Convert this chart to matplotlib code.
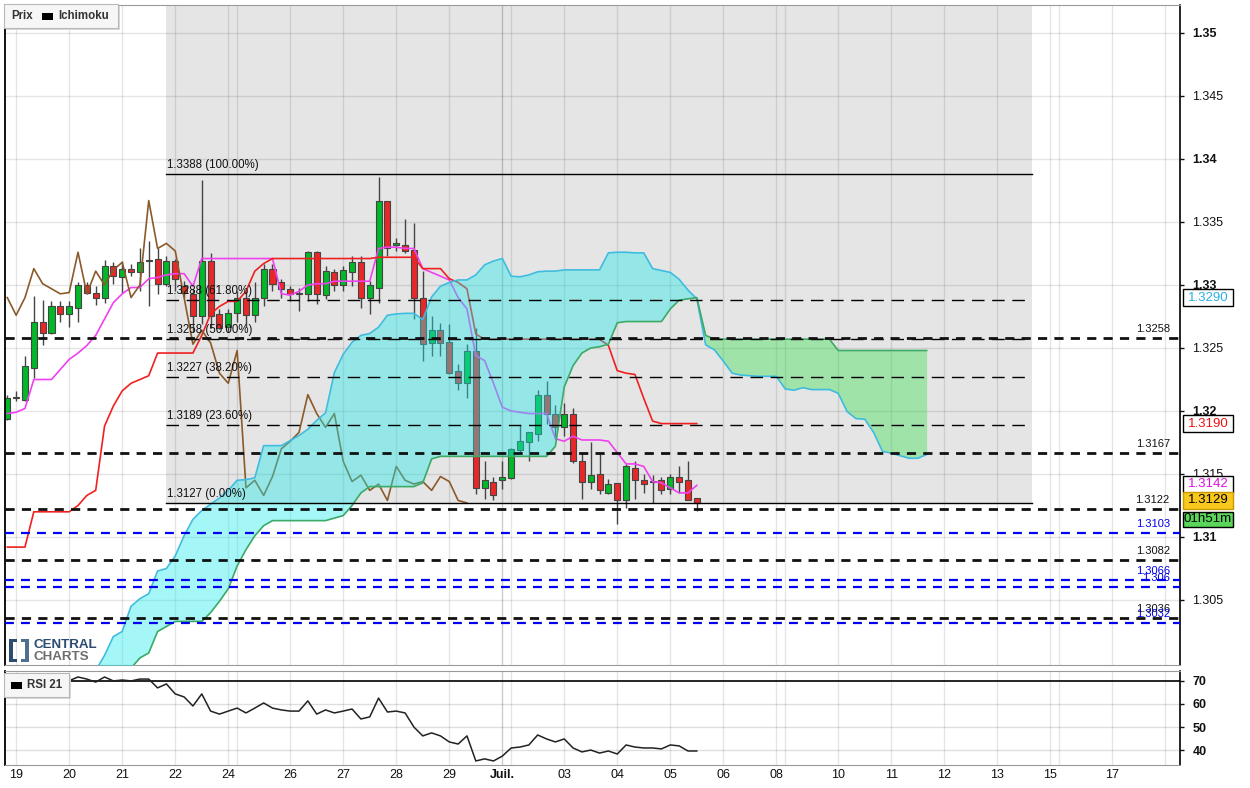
import numpy as np
import matplotlib
matplotlib.use("Agg")
import matplotlib.pyplot as plt
from matplotlib.patches import Rectangle
from matplotlib.transforms import blended_transform_factory

plt.rcParams['font.family'] = ['Liberation Sans', 'DejaVu Sans']

W, H = 1250, 788

# ---------------- data (4h candles) ----------------
opens = [1.3194, 1.3211, 1.3209, 1.3234, 1.3271, 1.3262, 1.3283, 1.3277, 1.3282, 1.3300,
         1.3294, 1.3290, 1.3315, 1.3306, 1.3313, 1.3310, 1.3319, 1.3321, 1.3301, 1.3319,
         1.3299, 1.3293, 1.3275, 1.3319, 1.3277, 1.3267, 1.3278, 1.3290, 1.3276, 1.3290,
         1.3313, 1.3302, 1.3297, 1.3293, 1.3293, 1.3326, 1.3292, 1.3310, 1.3300, 1.3310,
         1.3318, 1.3290, 1.3298, 1.3367, 1.3332, 1.3332, 1.3328, 1.3290, 1.3254, 1.3264,
         1.3255, 1.3232, 1.3222, 1.3248, 1.3139, 1.3144, 1.3145, 1.3147, 1.3169, 1.3175,
         1.3182, 1.3213, 1.3198, 1.3187, 1.3198, 1.3160, 1.3144, 1.3150, 1.3135, 1.3143,
         1.3129, 1.3155, 1.3145, 1.3144, 1.3145, 1.3138, 1.3148, 1.3145, 1.3131]
highs = [1.3213, 1.3216, 1.3244, 1.3291, 1.3288, 1.3287, 1.3287, 1.3287, 1.3302, 1.3302,
         1.3299, 1.3320, 1.3318, 1.3319, 1.3317, 1.3329, 1.3335, 1.3329, 1.3323, 1.3321,
         1.3303, 1.3297, 1.3383, 1.3325, 1.3281, 1.3281, 1.3295, 1.3295, 1.3302, 1.3317,
         1.3317, 1.3305, 1.3299, 1.3298, 1.3327, 1.3327, 1.3315, 1.3313, 1.3315, 1.3323,
         1.3323, 1.3303, 1.3386, 1.3367, 1.3337, 1.3352, 1.3349, 1.3311, 1.3275, 1.3270,
         1.3269, 1.3237, 1.3253, 1.3266, 1.3160, 1.3148, 1.3160, 1.3171, 1.3189, 1.3183,
         1.3217, 1.3224, 1.3205, 1.3206, 1.3202, 1.3167, 1.3175, 1.3166, 1.3146, 1.3143,
         1.3158, 1.3160, 1.3150, 1.3149, 1.3148, 1.3150, 1.3156, 1.3160, 1.3131]
lows = [1.3193, 1.3208, 1.3208, 1.3226, 1.3252, 1.3261, 1.3271, 1.3267, 1.3271, 1.3293,
        1.3284, 1.3286, 1.3301, 1.3294, 1.3307, 1.3295, 1.3283, 1.3293, 1.3299, 1.3295,
        1.3290, 1.3263, 1.3269, 1.3266, 1.3265, 1.3263, 1.3271, 1.3267, 1.3271, 1.3283,
        1.3295, 1.3290, 1.3287, 1.3279, 1.3287, 1.3285, 1.3289, 1.3295, 1.3295, 1.3299,
        1.3282, 1.3277, 1.3286, 1.3323, 1.3327, 1.3325, 1.3273, 1.3240, 1.3244, 1.3244,
        1.3229, 1.3217, 1.3210, 1.3134, 1.3130, 1.3129, 1.3138, 1.3146, 1.3167, 1.3160,
        1.3176, 1.3190, 1.3178, 1.3180, 1.3159, 1.3130, 1.3138, 1.3134, 1.3134, 1.3110,
        1.3123, 1.3130, 1.3135, 1.3127, 1.3134, 1.3134, 1.3135, 1.3129, 1.3121]
closes = [1.3210, 1.3210, 1.3236, 1.3271, 1.3262, 1.3283, 1.3277, 1.3283, 1.3300, 1.3294,
          1.3290, 1.3315, 1.3307, 1.3313, 1.3310, 1.3318, 1.3320, 1.3301, 1.3319, 1.3305,
          1.3294, 1.3275, 1.3319, 1.3275, 1.3266, 1.3278, 1.3290, 1.3276, 1.3290, 1.3313,
          1.3301, 1.3297, 1.3293, 1.3294, 1.3326, 1.3293, 1.3311, 1.3300, 1.3312, 1.3318,
          1.3290, 1.3300, 1.3367, 1.3329, 1.3333, 1.3327, 1.3290, 1.3253, 1.3264, 1.3254,
          1.3230, 1.3222, 1.3248, 1.3139, 1.3145, 1.3133, 1.3148, 1.3170, 1.3176, 1.3183,
          1.3213, 1.3198, 1.3187, 1.3198, 1.3160, 1.3144, 1.3149, 1.3137, 1.3142, 1.3129,
          1.3156, 1.3145, 1.3142, 1.3144, 1.3137, 1.3148, 1.3144, 1.3129, 1.3127]

tenkan = [1.3198, 1.3199, 1.3202, 1.3225, 1.3225, 1.3225, 1.3233, 1.3241, 1.3246, 1.3252,
          1.3260, 1.3273, 1.3286, 1.3293, 1.3298, 1.3298, 1.3305, 1.3306, 1.3308, 1.3309,
          1.3309, 1.3299, 1.3321, 1.3321, 1.3321, 1.3321, 1.3321, 1.3321, 1.3321, 1.3321,
          1.3321, 1.3293, 1.3292, 1.3295, 1.3300, 1.3301, 1.3301, 1.3303, 1.3303, 1.3303,
          1.3303, 1.3303, 1.3329, 1.3330, 1.3330, 1.3329, 1.3329, 1.3313, 1.3310, 1.3307,
          1.3304, 1.3290, 1.3281, 1.3244, 1.3240, 1.3222, 1.3203, 1.3200, 1.3199, 1.3198,
          1.3198, 1.3198, 1.3178, 1.3176, 1.3180, 1.3177, 1.3177, 1.3177, 1.3176, 1.3167,
          1.3158, 1.3158, 1.3156, 1.3144, 1.3143, 1.3139, 1.3135, 1.3135, 1.3141]
kijun = [1.3092, 1.3092, 1.3092, 1.3120, 1.3120, 1.3120, 1.3120, 1.3120, 1.3125, 1.3133,
         1.3137, 1.3188, 1.3204, 1.3216, 1.3222, 1.3225, 1.3228, 1.3246, 1.3246, 1.3246,
         1.3246, 1.3246, 1.3260, 1.3277, 1.3283, 1.3287, 1.3287, 1.3295, 1.3311, 1.3317,
         1.3321, 1.3321, 1.3321, 1.3321, 1.3321, 1.3321, 1.3321, 1.3321, 1.3321, 1.3321,
         1.3321, 1.3321, 1.3322, 1.3322, 1.3322, 1.3322, 1.3322, 1.3313, 1.3313, 1.3313,
         1.3305, 1.3302, 1.3297, 1.3261, 1.3257, 1.3257, 1.3257, 1.3257, 1.3257, 1.3257,
         1.3257, 1.3257, 1.3257, 1.3257, 1.3257, 1.3257, 1.3257, 1.3257, 1.3252, 1.3232,
         1.3230, 1.3229, 1.3210, 1.3192, 1.3190, 1.3190, 1.3190, 1.3190, 1.3190]
ichimoku_shift = 26
cloud_first_bar = 9
# Senkou span A before it can be built from the visible tenkan/kijun (bars 9..25)
senkou_a_early = [1.2985, 1.2994, 1.3006, 1.3021, 1.3025, 1.3045, 1.3051, 1.3055, 1.3073,
                  1.3075, 1.3085, 1.3101, 1.3114, 1.3121, 1.3126, 1.3131, 1.3137]
# Senkou span B, bars 9..104
senkou_b = [1.2960, 1.2965, 1.2970, 1.2978, 1.2988, 1.2996, 1.3004, 1.3008, 1.3025, 1.3029,
            1.3033, 1.3033, 1.3033, 1.3033, 1.3040, 1.3049, 1.3059, 1.3077, 1.3090, 1.3101,
            1.3109, 1.3113, 1.3113, 1.3113, 1.3113, 1.3113, 1.3113, 1.3113, 1.3115, 1.3117,
            1.3125, 1.3135, 1.3140, 1.3140, 1.3140, 1.3140, 1.3140, 1.3140, 1.3143, 1.3162,
            1.3164, 1.3164, 1.3164, 1.3164, 1.3164, 1.3164, 1.3164, 1.3164, 1.3164, 1.3164,
            1.3164, 1.3164, 1.3164, 1.3172, 1.3219, 1.3236, 1.3246, 1.3250, 1.3251, 1.3253,
            1.3270, 1.3271, 1.3271, 1.3271, 1.3271, 1.3271, 1.3281, 1.3288, 1.3289, 1.3290,
            1.3260, 1.3257, 1.3257, 1.3257, 1.3257, 1.3257, 1.3257, 1.3257, 1.3257, 1.3257,
            1.3257, 1.3257, 1.3257, 1.3257, 1.3257, 1.3248, 1.3248, 1.3248, 1.3248, 1.3248,
            1.3248, 1.3248, 1.3248, 1.3248, 1.3248, 1.3248]

rsi_first_bar = 7
rsi = [70.0, 71.6, 70.7, 69.4, 71.6, 69.9, 70.3, 69.9, 70.7, 70.7,
       66.9, 68.6, 64.3, 63.0, 59.1, 64.3, 56.9, 55.6, 56.9, 58.2,
       56.1, 58.2, 60.4, 58.2, 57.4, 56.9, 56.9, 61.3, 55.6, 57.4,
       56.1, 56.9, 57.8, 53.5, 54.4, 62.5, 56.5, 56.9, 56.1, 50.0,
       46.2, 47.5, 46.2, 43.6, 42.7, 46.2, 35.4, 36.3, 35.4, 37.5,
       41.0, 41.4, 42.3, 46.6, 44.9, 43.6, 44.9, 41.0, 39.3, 40.1,
       38.8, 39.7, 38.4, 42.3, 41.4, 41.0, 41.0, 40.6, 42.3, 41.9,
       39.7, 39.7]

fib_high, fib_low = 1.3388, 1.3127
fib_levels = [1.0, 0.618, 0.5, 0.382, 0.236, 0.0]
fib_start_bar, fib_end_bar = 17.95, 115.9

support_black = [1.3258, 1.3167, 1.3122, 1.3082, 1.3036]
support_black_txt = ['1.3258', '1.3167', '1.3122', '1.3082', '1.3036']
support_blue = [1.3103, 1.3066, 1.3060, 1.3032]
support_blue_txt = ['1.3103', '1.3066', '1.306', '1.3032']

day_labels = ['19', '20', '21', '22', '24', '26', '27', '28', '29', 'Juil.', '03', '04',
              '05', '06', '08', '10', '11', '12', '13', '15', '17']
day_ticks = [1, 7, 13, 19, 25, 32, 38, 44, 50, 56, 63, 69, 75, 81, 87, 94, 100, 106, 112,
             118, 125]
week_lines = [26, 57, 88, 119, 131]

price_ticks = [1.305, 1.31, 1.315, 1.32, 1.325, 1.33, 1.335, 1.34, 1.345, 1.35]
price_tick_txt = ['1.305', '1.31', '1.315', '1.32', '1.325', '1.33', '1.335', '1.34', '1.345', '1.35']
rsi_ticks = [40, 50, 60, 70]

box_values = [('1.3290', 1.3290, '#2AAEE6', 'white', 'black'),
              ('1.3190', 1.3190, '#EE1111', 'white', 'black'),
              ('1.3142', 1.3142, '#E010E0', 'white', 'black'),
              ('1.3129', 1.3129, 'black', '#F8C81C', '#C89A00')]
countdown_txt = '01h51m'

# ---------------- figure ----------------
fig = plt.figure(figsize=(W / 100, H / 100), dpi=100)
fig.patch.set_facecolor('white')


def fx(px):
    return px / W


def fy(py):
    return 1 - py / H


ax = fig.add_axes([fx(5), fy(665), fx(1180) - fx(5), fy(5) - fy(665)])
axr = fig.add_axes([fx(5), fy(765), fx(1180) - fx(5), fy(671) - fy(765)])

xmin, xmax = -0.26, 132.66
ymin, ymax = 1.299841, 1.352222
ax.set_xlim(xmin, xmax)
ax.set_ylim(ymin, ymax)
axr.set_xlim(xmin, xmax)
axr.set_ylim(33.66, 74.18)

o = np.array(opens)
h = np.array(highs)
l = np.array(lows)
c = np.array(closes)
n = len(c)
x = np.arange(n)

# fibonacci grey zone
ax.add_patch(Rectangle((fib_start_bar, fib_low), fib_end_bar - fib_start_bar, ymax - fib_low,
                       facecolor='#E5E5E5', edgecolor='none', zorder=0.2))

# grid
for a in (ax, axr):
    for t in day_ticks + week_lines:
        a.axvline(t, color='black', alpha=0.2 if t == 56 else 0.1, lw=1, zorder=0.5)
for t in price_ticks:
    ax.axhline(t, color='black', alpha=0.1, lw=1, zorder=0.5)
for t in rsi_ticks[:-1]:
    axr.axhline(t, color='black', alpha=0.13, lw=1, zorder=0.5)
axr.axhline(70, color='black', lw=1.2, zorder=2)

# candles
up = c >= o
cols = np.where(up, '#00B828', '#E82828')
ax.vlines(x, l, h, color='#444444', lw=1, zorder=2)
ax.bar(x, np.maximum(np.abs(c - o), 0.00003), bottom=np.minimum(o, c), width=0.68,
       color=cols, edgecolor='#444444', linewidth=0.8, zorder=2.1)

# ichimoku
ax.plot(x, tenkan, color='#F040F0', lw=1.2, zorder=2.5)
ax.plot(x, kijun, color='#F02020', lw=1.2, zorder=2.5)
ax.plot(x[:n - ichimoku_shift], c[ichimoku_shift:], color='#8B5A2B', lw=1.2, zorder=2.5)

span_a = np.array(senkou_a_early + [(t + k) / 2 for t, k in zip(tenkan, kijun)])
span_b = np.array(senkou_b)
xa = np.arange(cloud_first_bar, cloud_first_bar + len(span_a))
ax.fill_between(xa, span_a, span_b, where=span_a >= span_b, interpolate=True,
                color='#1EEBEB', alpha=0.4, lw=0, zorder=3)
ax.fill_between(xa, span_a, span_b, where=span_b > span_a, interpolate=True,
                color='#37E150', alpha=0.4, lw=0, zorder=3)
ax.plot(xa, span_a, color='#3EBCE0', lw=1.2, zorder=3.5)
ax.plot(xa, span_b, color='#3DAA66', lw=1.2, zorder=3.5)

# fibonacci lines
rng = fib_high - fib_low
for lev in fib_levels:
    val = fib_low + lev * rng
    if lev in (0.0, 1.0):
        ax.plot([fib_start_bar, fib_end_bar], [val, val], color='black', lw=1, zorder=4)
    else:
        ax.plot([fib_start_bar, fib_end_bar], [val, val], color='black', lw=1,
                linestyle=(0, (9, 5.5)), zorder=4)
    ax.annotate('%.4f (%.2f%%)' % (val + 1e-7, lev * 100), xy=(fib_start_bar, val),
                xytext=(1, 6.5), textcoords='offset points', ha='left', va='center',
                fontsize=8.3, color='#111111', zorder=6)

# support / resistance lines
lab_x = 131.5
for v, t in zip(support_black, support_black_txt):
    ax.axhline(v, color='#111111', lw=2, linestyle=(0, (3.3, 2.6)), zorder=4.5)
    ax.annotate(t, xy=(lab_x, v), xytext=(0, 6.5), textcoords='offset points',
                ha='right', va='center', fontsize=8, color='#111111', zorder=6)
for v, t in zip(support_blue, support_blue_txt):
    ax.axhline(v, color='#0000EE', lw=1.6, linestyle=(0, (4, 3.2)), zorder=4.5)
    ax.annotate(t, xy=(lab_x, v), xytext=(0, 6.5), textcoords='offset points',
                ha='right', va='center', fontsize=8, color='#0000EE', zorder=6)

# RSI
xr = np.arange(rsi_first_bar, rsi_first_bar + len(rsi))
axr.plot(xr, rsi, color='#222222', lw=1.1, zorder=3)

# axes styling
for a in (ax, axr):
    a.yaxis.tick_right()
    a.spines['left'].set_color('black')
    a.spines['left'].set_linewidth(1.3)
    a.spines['right'].set_color('black')
    a.spines['right'].set_linewidth(1.2)
    a.spines['top'].set_color('#9A9A9A')
    a.spines['bottom'].set_color('#9A9A9A')
    a.tick_params(axis='y', length=3, width=1, pad=6, labelsize=9, colors='#111111')
ax.set_xticks([])
ax.set_yticks(price_ticks)
ax.set_yticklabels(price_tick_txt)
for i, tl in enumerate(ax.get_yticklabels()):
    tl.set_fontweight('bold' if i % 2 == 1 else 'normal')
axr.set_yticks(rsi_ticks)
axr.set_yticklabels([str(t) for t in rsi_ticks], fontweight='bold')
axr.set_xticks(day_ticks)
axr.set_xticklabels(day_labels)
axr.tick_params(axis='x', length=0, pad=3, labelsize=9, colors='#111111')
for tl in axr.get_xticklabels():
    if tl.get_text() == 'Juil.':
        tl.set_fontweight('bold')

# value boxes on the right axis
trans = blended_transform_factory(fig.transFigure, ax.transData)
bh = 17 / 12600.0
for txt, val, fg, bg, ec in box_values:
    ax.add_patch(Rectangle((fx(1183), val - bh / 2), fx(50), bh, transform=trans,
                           facecolor=bg, edgecolor=ec, lw=1, clip_on=False, zorder=20))
    ax.text(fx(1208), val, txt, transform=trans, ha='center', va='center', fontsize=9.5,
            color=fg, clip_on=False, zorder=21)
cd_val = box_values[-1][1] - 18 / 12600.0
ax.add_patch(Rectangle((fx(1183), cd_val - bh / 2), fx(50), bh * 0.9, transform=trans,
                       facecolor='#5AD65A', edgecolor='black', lw=1, clip_on=False, zorder=20))
ax.text(fx(1208), cd_val - bh * 0.05, countdown_txt, transform=trans, ha='center', va='center',
        fontsize=9.5, color='black', clip_on=False, zorder=21)

# legend boxes


def legend_box(x0, y0, x1, y1, items):
    fig.add_artist(Rectangle((fx(x0 + 2), fy(y1 + 2)), fx(x1 - x0), fy(y0) - fy(y1),
                             transform=fig.transFigure, facecolor='#D8D8D8', edgecolor='none',
                             zorder=30))
    fig.add_artist(Rectangle((fx(x0), fy(y1)), fx(x1 - x0), fy(y0) - fy(y1),
                             transform=fig.transFigure, facecolor='#F6F6F6', edgecolor='#B8B8B8',
                             lw=0.8, zorder=31))
    yc = (y0 + y1) / 2
    for kind, px, val in items:
        if kind == 'sq':
            fig.add_artist(Rectangle((fx(px), fy(yc + 3.5)), fx(11), fy(yc - 3.5) - fy(yc + 3.5),
                                     transform=fig.transFigure, facecolor='black',
                                     edgecolor='none', zorder=32))
        else:
            fig.text(fx(px), fy(yc), val, ha='left', va='center', fontsize=8.3,
                     fontweight='bold', color='#333333', zorder=32)


legend_box(4, 4, 118, 28, [('t', 11, 'Prix'), ('sq', 42, ''), ('t', 58, 'Ichimoku')])
legend_box(4, 673, 69, 697, [('sq', 11, ''), ('t', 27, 'RSI 21')])

# logo
for (px, py, pw, ph, colr) in [(9, 639, 4, 23, '#2B4C70'), (9, 639, 8, 3, '#2B4C70'),
                               (9, 659, 8, 3, '#2B4C70'), (25, 639, 4, 23, '#4F6F90'),
                               (21, 639, 8, 3, '#4F6F90'), (21, 659, 8, 3, '#4F6F90')]:
    fig.add_artist(Rectangle((fx(px), fy(py + ph)), fx(pw), fy(py) - fy(py + ph),
                             transform=fig.transFigure, facecolor=colr, edgecolor='none',
                             zorder=30))
fig.text(fx(34), fy(645), 'CENTRAL', ha='left', va='center', fontsize=9.6, fontweight='bold',
         color='#2B4C70', zorder=30)
fig.text(fx(34), fy(657), 'CHARTS', ha='left', va='center', fontsize=9.6, fontweight='bold',
         color='#6E6E6E', zorder=30)

fig.savefig('out.png', dpi=100, facecolor='white')
